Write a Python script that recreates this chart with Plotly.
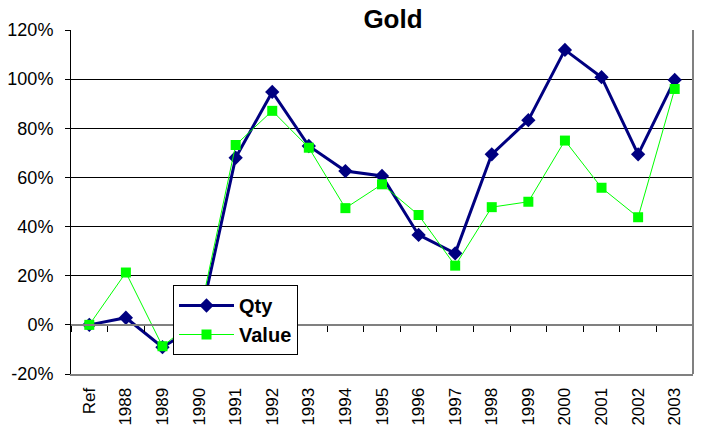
import plotly.graph_objects as go

categories = ["Ref", "1988", "1989", "1990", "1991", "1992", "1993", "1994", "1995",
              "1996", "1997", "1998", "1999", "2000", "2001", "2002", "2003"]
qty = [0, 2.9, -9.1, 0, 68.0, 94.8, 72.8, 62.6, 60.6, 36.6, 29.1, 69.4, 83.3, 111.9, 100.8, 69.4, 99.7]
value = [0, 21.3, -8.7, 3, 73.2, 87.1, 72.1, 47.5, 57.2, 44.7, 24.1, 47.9, 50.1, 75.0, 55.8, 43.8, 96.0]
y_ticks = [-20, 0, 20, 40, 60, 80, 100, 120]
y_tick_labels = ["-20%", "0%", "20%", "40%", "60%", "80%", "100%", "120%"]

FONT = "Liberation Sans, Arial, sans-serif"

fig = go.Figure()
fig.add_trace(go.Scatter(
    x=categories, y=qty, name="Qty", mode="lines+markers",
    line=dict(color="#000080", width=3),
    marker=dict(symbol="diamond", size=11, color="#000080"),
))
fig.add_trace(go.Scatter(
    x=categories, y=value, name="Value", mode="lines+markers",
    line=dict(color="#00FF00", width=1),
    marker=dict(symbol="square", size=10, color="#00FF00"),
))
# helper trace so the zero-position category axis (tick marks) is drawn
fig.add_trace(go.Scatter(
    x=categories, y=[None] * len(categories), xaxis="x2", showlegend=False,
    hoverinfo="skip", mode="lines",
))

fig.update_layout(
    width=702, height=427,
    margin=dict(l=71, r=9, t=30, b=53),
    paper_bgcolor="white", plot_bgcolor="white",
    font=dict(family=FONT, color="black"),
    title=dict(text="Gold", font=dict(family=FONT, size=26, weight="bold", color="black"),
               x=393 / 702, xanchor="center", xref="container",
               y=1 - 10 / 427, yanchor="top", yref="container"),
    xaxis=dict(
        type="category", categoryorder="array", categoryarray=categories,
        range=[-0.5, len(categories) - 0.5],
        showgrid=False, zeroline=False,
        showline=True, linecolor="#808080", linewidth=2,
        ticks="", tickangle=-90, tickfont=dict(family=FONT, size=17, color="black"),
        ticklabelstandoff=5, automargin=False,
    ),
    xaxis2=dict(
        type="category", categoryorder="array", categoryarray=categories,
        range=[-0.5, len(categories) - 0.5],
        overlaying="x", anchor="free", position=20 / 140,
        showgrid=False, zeroline=False,
        showline=True, linecolor="#808080", linewidth=2,
        ticks="outside", tickson="boundaries", ticklen=6, tickcolor="black", tickwidth=1,
        showticklabels=False, automargin=False,
    ),
    yaxis=dict(
        range=[-20, 120], tickvals=y_ticks, ticktext=y_tick_labels,
        showgrid=True, gridcolor="black", gridwidth=1, zeroline=False,
        showline=True, linecolor="black", linewidth=1,
        ticks="outside", ticklen=5, tickcolor="black",
        tickfont=dict(family=FONT, size=18, color="black"),
        ticklabelstandoff=8, automargin=False,
    ),
    legend=dict(
        x=(173 - 71) / 622, y=(374 - 285) / 344, xanchor="left", yanchor="top",
        bgcolor="white", bordercolor="black", borderwidth=1,
        font=dict(family=FONT, size=20, weight="bold", color="black"),
        itemwidth=55, tracegroupgap=0,
    ),
    shapes=[dict(type="line", xref="paper", yref="paper", x0=1, x1=1, y0=0, y1=1,
                 line=dict(color="#808080", width=2))],
    showlegend=True,
)

fig.write_html(
    "out.html",
    config={"displayModeBar": False},
    post_script="document.body.style.margin='0';document.body.style.overflow='hidden';",
)
